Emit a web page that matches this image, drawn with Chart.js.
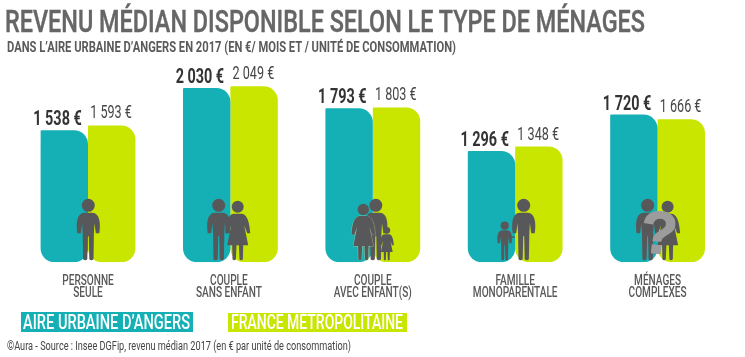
<!DOCTYPE html>
<html lang="fr"><head><meta charset="utf-8">
<script src="https://cdn.jsdelivr.net/npm/chart.js@4"></script>
<style>
html,body{margin:0;padding:0;background:#fff;width:745px;height:357px;overflow:hidden}
#wrap{position:relative;width:745px;height:357px}
canvas{position:absolute;left:0;top:0}
.t{position:absolute;white-space:nowrap;font-family:"Roboto","Liberation Sans",sans-serif;transform-origin:0 0;line-height:1}
.box{position:absolute}
</style></head><body>
<div id="wrap">
<canvas id="c" width="745" height="357"></canvas>
<div class="box" style="left:21px;top:312px;width:172px;height:20px;background:#14b0b5"></div>
<div class="box" style="left:228px;top:312.5px;width:179px;height:19.5px;background:#c8e600"></div>
<span class="t" data-w="640" style="left:5px;top:6px;font-size:31px;font-weight:500;-webkit-text-stroke:.4px #666;color:#666">REVENU MÉDIAN DISPONIBLE SELON LE TYPE DE MÉNAGES</span>
<span class="t" data-w="449" style="left:7px;top:40px;font-size:14px;font-weight:bold;color:#5a5a5a">DANS L’AIRE URBAINE D’ANGERS EN 2017 (EN €/ MOIS ET / UNITÉ DE CONSOMMATION)</span>
<span class="t" data-w="167" style="left:23px;top:312px;font-size:21px;font-weight:500;color:#fff">AIRE URBAINE D’ANGERS</span>
<span class="t" data-w="172" style="left:231px;top:312px;font-size:21px;font-weight:500;color:#fff">FRANCE MÉTROPOLITAINE</span>
<span class="t" data-w="344" style="left:7px;top:340px;font-size:12px;color:#444">©Aura - Source : Insee DGFip, revenu médian 2017 (en € par unité de consommation)</span>
</div>
<script>
const categories = [["PERSONNE","SEULE"],["COUPLE","SANS ENFANT"],["COUPLE","AVEC ENFANT(S)"],["FAMILLE","MONOPARENTALE"],["MÉNAGES","COMPLEXES"]];
const aireUrbaine = [1538,2030,1793,1296,1720];
const franceMetro = [1593,2049,1803,1348,1666];
const seriesNames = ["Aire urbaine d’Angers","France métropolitaine"];
const figures = [
  [["man",0.3,1]],
  [["man",-11.7,1],["woman",7.3,1]],
  [["man",3,1],["woman",-9.5,0.95],["woman",14,0.56]],
  [["man",-10.5,0.63],["man",8.5,1]],
  [["man",-10,1],["woman",10,1]]
];
const TEAL="#14b0b5", LIME="#c8e600", ICON="#58585a";

document.querySelectorAll('.t').forEach(el=>{
  const w=+el.dataset.w, m=el.getBoundingClientRect().width;
  el.style.transform='scaleX('+(w/m)+')';
});

function euro(v){return String(v).replace(/\B(?=(\d{3})+$)/g,' ')+' €';}
function squeezed(ctx,text,x,y,sx){
  ctx.save();ctx.translate(x,y);ctx.scale(sx,1);ctx.fillText(text,0,0);ctx.restore();
}

function man(ctx,x,y,s){
  ctx.save();ctx.translate(x,y);ctx.scale(s,s);
  ctx.beginPath();ctx.arc(0,-55,6.5,0,Math.PI*2);ctx.fill();
  ctx.beginPath();
  ctx.moveTo(-5.2,-1);ctx.lineTo(-5.6,-26);ctx.lineTo(-6.2,-37);ctx.lineTo(-7.5,-27);ctx.lineTo(-11,-27);
  ctx.bezierCurveTo(-12.5,-37,-11.5,-47,-4,-47.5);ctx.lineTo(4,-47.5);
  ctx.bezierCurveTo(11.5,-47,12.5,-37,11,-27);ctx.lineTo(7.5,-27);ctx.lineTo(6.2,-37);ctx.lineTo(5.6,-26);ctx.lineTo(5.2,-1);
  ctx.quadraticCurveTo(3,1,1,-1);ctx.lineTo(.5,-24);ctx.lineTo(-.5,-24);ctx.lineTo(-1,-1);ctx.quadraticCurveTo(-3,1,-5.2,-1);
  ctx.closePath();ctx.fill();
  ctx.restore();
}
function woman(ctx,x,y,s,halo){
  ctx.save();ctx.translate(x,y);ctx.scale(s,s);
  ctx.beginPath();ctx.arc(0,-53.5,6,0,Math.PI*2);ctx.fill();
  ctx.beginPath();
  ctx.moveTo(-4,-46.5);ctx.lineTo(4,-46.5);
  ctx.bezierCurveTo(10,-46,12,-36,12.5,-27);ctx.lineTo(9.5,-27);ctx.lineTo(6.5,-35);ctx.lineTo(10.5,-15);
  ctx.lineTo(5.5,-15);ctx.lineTo(5.2,-1);ctx.quadraticCurveTo(3.5,.8,1.8,-1);ctx.lineTo(1.2,-15);ctx.lineTo(-1.2,-15);ctx.lineTo(-1.8,-1);
  ctx.quadraticCurveTo(-3.5,.8,-5.2,-1);ctx.lineTo(-5.5,-15);ctx.lineTo(-10.5,-15);ctx.lineTo(-6.5,-35);ctx.lineTo(-9.5,-27);ctx.lineTo(-12.5,-27);
  ctx.bezierCurveTo(-12,-36,-10,-46,-4,-46.5);
  ctx.closePath();
  if(halo){ctx.save();ctx.strokeStyle=halo;ctx.lineWidth=1;ctx.stroke();ctx.restore();}
  ctx.fill();
  ctx.restore();
}

const overlay={
  id:'overlay',
  afterDatasetsDraw(chart){
    const ctx=chart.ctx,xs=chart.scales.x,ys=chart.scales.y,base=ys.getPixelForValue(0)-2;
    ctx.save();
    ctx.fillStyle=ICON;
    figures.forEach((g,i)=>{
      const cx=xs.getPixelForValue(i);
      g.forEach((f,j)=>{
        if(f[0]==='man') man(ctx,cx+f[1],base,f[2]);
        else woman(ctx,cx+f[1],base,f[2],(i===2&&j===1)?'rgba(200,225,150,.6)':null);
      });
      if(i===3){ctx.fillRect(cx-6.5,base-24,6,1.6);}
      if(i===4){
        ctx.save();ctx.fillStyle='#9c9c9c';ctx.strokeStyle='#9c9c9c';ctx.lineWidth=1.2;
        ctx.font='bold 60px "Liberation Sans"';ctx.textAlign='center';ctx.textBaseline='alphabetic';
        ctx.translate(cx-0.5,base-7);ctx.rotate(0.1);ctx.fillText('?',0,0);ctx.strokeText('?',0,0);ctx.restore();
      }
    });
    ctx.textAlign='center';ctx.textBaseline='alphabetic';
    const F='"Roboto",sans-serif';
    aireUrbaine.forEach((v,i)=>{
      ctx.fillStyle='#333';ctx.font='bold 20px '+F;
      squeezed(ctx,euro(v),xs.getPixelForValue(i)-30.5,ys.getPixelForValue(v)-5,0.72);
    });
    franceMetro.forEach((v,i)=>{
      ctx.fillStyle='#454545';ctx.font='18px '+F;
      squeezed(ctx,euro(v),xs.getPixelForValue(i)+23,ys.getPixelForValue(v)-7,0.7);
    });
    ctx.fillStyle='#58585a';ctx.font='500 15.5px '+F;
    chart.data.labels.forEach((lines,i)=>{
      lines.forEach((line,k)=>{
        squeezed(ctx,line,xs.getPixelForValue(i)-(i===1?1.5:0),284.5+k*12.8,0.65);
      });
    });
    ctx.restore();
  }
};
const radius={topLeft:1,topRight:14,bottomLeft:14,bottomRight:14};
new Chart(document.getElementById('c'),{
  type:'bar',
  data:{labels:categories,datasets:[
    {label:seriesNames[0],data:aireUrbaine,backgroundColor:TEAL,borderRadius:radius,borderSkipped:false,borderWidth:0,inflateAmount:0,categoryPercentage:.6658,barPercentage:1},
    {label:seriesNames[1],data:franceMetro,backgroundColor:LIME,borderRadius:radius,borderSkipped:false,borderWidth:0,inflateAmount:0,categoryPercentage:.6658,barPercentage:1}
  ]},
  options:{
    responsive:false,animation:false,devicePixelRatio:1,
    layout:{padding:{left:16.8,right:16.2,top:47.55,bottom:54.7}},
    plugins:{legend:{display:false},title:{display:false},tooltip:{enabled:false}},
    scales:{
      x:{afterFit(a){a.height=40;},grid:{display:false,drawTicks:false},border:{display:false},
         ticks:{display:false}},
      y:{display:false,min:0,max:2500}
    }
  },
  plugins:[overlay]
});
</script>
</body></html>
